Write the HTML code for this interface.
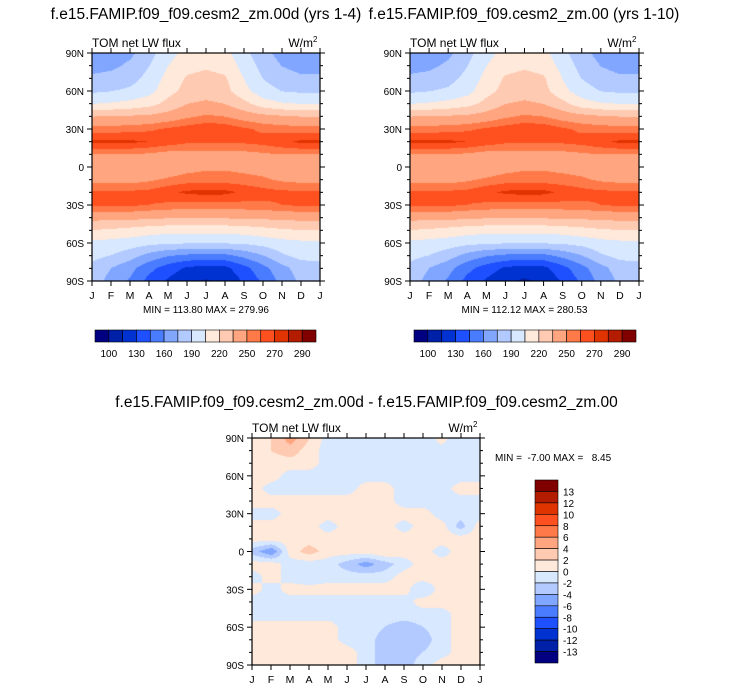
<!DOCTYPE html>
<html><head><meta charset="utf-8"><style>
body{margin:0;background:#fff;width:733px;height:693px;overflow:hidden;font-family:"Liberation Sans",Arial,sans-serif;position:relative}
.t{position:absolute;white-space:nowrap;color:#000}
canvas{position:absolute}
svg{position:absolute;left:0;top:0}
</style></head><body>
<div class="t" style="left:0;width:412px;text-align:center;top:6px;font-size:15.5px">f.e15.FAMIP.f09_f09.cesm2_zm.00d (yrs 1-4)</div>
<div class="t" style="left:324px;width:400px;text-align:center;top:6px;font-size:15.5px">f.e15.FAMIP.f09_f09.cesm2_zm.00 (yrs 1-10)</div>
<div class="t" style="left:0;width:733px;text-align:center;top:394px;font-size:15.5px">f.e15.FAMIP.f09_f09.cesm2_zm.00d - f.e15.FAMIP.f09_f09.cesm2_zm.00</div>
<canvas id="c1" width="228" height="228" style="left:92px;top:53px"></canvas>
<canvas id="c2" width="229" height="228" style="left:410px;top:53px"></canvas>
<canvas id="c3" width="228" height="227" style="left:252px;top:438px"></canvas>
<svg id="ov" width="733" height="693"></svg>
<script>
const months=["J","F","M","A","M","J","J","A","S","O","N","D","J"];
const latLabels=["90N","60N","30N","0","30S","60S","90S"];
const topLevels=[100,115,130,145,160,175,190,205,220,235,250,260,270,280,290];
const topTicks=["100","130","160","190","220","250","270","290"];
const diffLevels=[-13,-12,-10,-8,-6,-4,-2,0,2,4,6,8,10,12,13];
const diffTicks=["13","12","10","8","6","4","2","0","-2","-4","-6","-8","-10","-12","-13"];
const palette=["#000080","#0020a8","#0032d2","#1e50ff","#4a7cff","#80a6ff","#b2caff","#d8e8ff","#ffe9da","#ffcab2","#ffa680","#ff7a48","#ff5020","#e03400","#b41c00","#800000"];
const field1=[
[165,168,172,185,200,210,212,210,195,180,170,165,165],
[170,172,178,190,205,215,218,215,200,185,175,170,170],
[178,180,185,195,210,222,225,222,205,190,182,178,178],
[188,190,193,200,215,225,228,225,210,197,190,188,188],
[205,207,210,215,225,235,238,235,225,212,207,205,205],
[235,236,237,238,242,248,252,250,244,240,237,235,235],
[255,255,256,258,262,265,268,267,262,258,256,255,255],
[272,273,272,270,266,262,262,262,262,264,268,272,272],
[250,250,250,248,245,245,245,245,246,248,250,250,250],
[238,238,238,238,240,245,248,248,246,244,240,238,238],
[246,245,245,248,252,255,255,255,254,252,248,246,246],
[262,262,262,263,268,272,274,273,268,264,262,262,262],
[262,262,262,260,258,256,256,256,257,258,260,262,262],
[240,240,240,238,237,237,237,237,238,238,240,240,240],
[220,218,215,212,210,210,210,210,212,215,218,220,220],
[202,200,198,195,193,192,192,192,193,196,200,202,202],
[195,190,182,170,162,158,156,157,165,175,188,195,195],
[185,175,165,150,138,128,124,126,140,155,170,182,185],
[182,170,158,140,128,118,114,118,132,148,165,178,182]];
const field2=[
[164,167,172,185,200,210,212,210,195,180,170,165,164],
[170,172,178,190,205,215,218,215,200,185,175,170,170],
[178,180,185,195,210,222,225,222,205,190,182,178,178],
[188,190,193,200,215,225,228,225,210,197,190,188,188],
[205,207,210,215,225,235,238,235,225,212,207,205,205],
[235,236,237,238,242,248,252,250,244,240,237,235,235],
[255,255,256,258,262,265,268,267,262,258,256,255,255],
[272,273,272,270,266,262,262,262,262,264,268,272,272],
[250,250,250,248,245,245,245,245,246,248,250,250,250],
[238,238,238,238,240,245,248,248,246,244,240,238,238],
[246,245,245,248,252,255,255,255,254,252,248,246,246],
[262,262,262,263,268,272,274,273,268,264,262,262,262],
[262,262,262,260,258,256,256,256,257,258,260,262,262],
[240,240,240,238,237,237,237,237,238,238,240,240,240],
[220,218,215,212,210,210,210,210,212,215,218,220,220],
[202,200,198,195,193,192,192,192,193,196,200,202,202],
[195,190,182,170,162,158,156,157,165,175,188,195,195],
[185,175,165,150,138,128,124,126,140,155,170,182,185],
[182,170,158,140,128,118,113,118,132,148,165,178,182]];
const diffField=[
[1,2,5,2,-1,-1,-1,-1,-2,-2,1,-2,-1],
[1,2,3,1,-1,-1,-1,-1,-1,-1,-1,-2,-1],
[1,1,1,1,-1,-1,-1,-1,-1,-1,-1,-1,-1],
[1,1,-1,-1,-1,-1,-1,-1,-1,-1,-1,-1,-1],
[1,-1,-1,-1,-1,-1,1,1,-1,-1,-1,1,1],
[1,1,1,1,1,1,1,1,-1,-1,-1,-1,-1],
[-1,-1,1,1,1,1,1,1,1,1,-1,-1,-1],
[1,1,1,1,-1,1,1,1,-1,1,1,-3,1],
[1,1,1,1,1,1,1,2,1,1,1,1,1],
[-3,-6,1,3,1,1,1,2,1,1,-1,1,1],
[1,1,-1,-1,-1,-3,-5,-3,-1,1,1,1,1],
[-1,1,-1,-2,-1,-1,-1,-1,1,1,1,1,1],
[1,-1,1,1,1,1,1,1,1,-2,1,1,1],
[-1,-1,-1,-1,-1,-1,-1,-1,-1,1,1,1,1],
[-1,-1,-1,-1,-1,-1,-1,-1,-1,-1,-1,1,1],
[1,1,1,1,1,-1,-1,-2,-3,-2,-1,1,1],
[1,1,1,1,1,-1,-1,-3,-3,-3,-1,1,1],
[1,1,1,1,2,1,-1,-3,-3,-2,-1,1,1],
[1,1,1,1,2,1,-1,-3,-3,-1,1,1,1]];

function hex(h){return [parseInt(h.substr(1,2),16),parseInt(h.substr(3,2),16),parseInt(h.substr(5,2),16)];}
const rgb=palette.map(hex);
function level(v,lv){let i=0;while(i<lv.length&&v>=lv[i])i++;return i;}
function drawField(id,f,lv){
  const c=document.getElementById(id),ctx=c.getContext('2d'),W=c.width,H=c.height;
  const img=ctx.createImageData(W,H),nx=f[0].length-1,ny=f.length-1;
  for(let y=0;y<H;y++)for(let x=0;x<W;x++){
    const fx=x/(W-1)*nx,fy=y/(H-1)*ny;
    const i=Math.min(nx-1,Math.floor(fx)),j=Math.min(ny-1,Math.floor(fy));
    const tx=fx-i,ty=fy-j;
    const v=(f[j][i]*(1-tx)+f[j][i+1]*tx)*(1-ty)+(f[j+1][i]*(1-tx)+f[j+1][i+1]*tx)*ty;
    const col=rgb[level(v,lv)],k=(y*W+x)*4;
    img.data[k]=col[0];img.data[k+1]=col[1];img.data[k+2]=col[2];img.data[k+3]=255;
  }
  ctx.putImageData(img,0,0);
}
drawField('c1',field1,topLevels);
drawField('c2',field2,topLevels);
drawField('c3',diffField,diffLevels);

const NS='http://www.w3.org/2000/svg',ov=document.getElementById('ov');
function el(tag,a,txt){const e=document.createElementNS(NS,tag);for(const k in a)e.setAttribute(k,a[k]);if(txt!==undefined)e.textContent=txt;ov.appendChild(e);return e;}
function axes(x0,y0,w,h,pfx,minmax){
  const fr=el('rect',{x:x0,y:y0,width:w,height:h,fill:'none',stroke:'#000','stroke-width':1.2});
  
  
  for(let i=0;i<=18;i++){
    const y=y0+i*h/18,len=(i%3==0)?5:3;
    el('line',{x1:x0-len,y1:y,x2:x0,y2:y,stroke:'#000'});
    el('line',{x1:x0+w,y1:y,x2:x0+w+len,y2:y,stroke:'#000'});
  }
  latLabels.forEach((l,i)=>{
    const t=el('text',{x:x0-8,y:y0+i*h/6+4,'font-size':10,'text-anchor':'end'},l);
    
    
  });
  months.forEach((m,i)=>{
    const x=x0+i*w/12;
    el('line',{x1:x,y1:y0-5,x2:x,y2:y0,stroke:'#000'});
    el('line',{x1:x,y1:y0+h,x2:x,y2:y0+h+5,stroke:'#000'});
    const t=el('text',{x:x,y:y0+h+18,'font-size':10.5,'text-anchor':'middle'},m);
    
    
  });
  const a=el('text',{x:x0,y:y0-6,'font-size':12},'TOM net LW flux');
  
  
  const u=el('text',{x:x0+w-7,y:y0-6,'font-size':12,'text-anchor':'end'},'W/m');
  
  
  el('text',{x:x0+w-7,y:y0-11,'font-size':8},'2');
  if(minmax){
    const mm=el('text',{x:x0+w/2,y:y0+h+32,'font-size':10,'text-anchor':'middle'},minmax);
    
    
  }
}
axes(92,53,228,228,'left','MIN = 113.80 MAX = 279.96');
axes(410,53,229,228,'right','MIN = 112.12 MAX = 280.53');
axes(252,438,228,227,'diff',null);
const mm=el('text',{x:495,y:461,'font-size':10,style:'white-space:pre'},'MIN =  -7.00 MAX =   8.45');



function hbar(x0,y0,w,h,pfx){
  const n=palette.length,bw=w/n;
  palette.forEach((c,i)=>{
    const r=el('rect',{x:x0+i*bw,y:y0,width:bw,height:h,fill:c,stroke:'#000','stroke-width':0.6});
    
    
  });
  topTicks.forEach((t,i)=>{
    const e=el('text',{x:x0+(2*i+1)*bw,y:y0+h+15,'font-size':10,'text-anchor':'middle'},t);
    
    
  });
}
hbar(95,330,221,12,'left');
hbar(414,330,222,12,'right');
(function(){
  const x0=535,y0=480,w=23,h=183,n=palette.length,bh=h/n;
  for(let i=0;i<n;i++){
    const r=el('rect',{x:x0,y:y0+i*bh,width:w,height:bh,fill:palette[n-1-i],stroke:'#000','stroke-width':0.6});
    
    
  }
  diffTicks.forEach((t,i)=>{
    const e=el('text',{x:x0+w+5,y:y0+(i+1)*bh+4,'font-size':10},t);
    
    
  });
})();
</script>
</body></html>
